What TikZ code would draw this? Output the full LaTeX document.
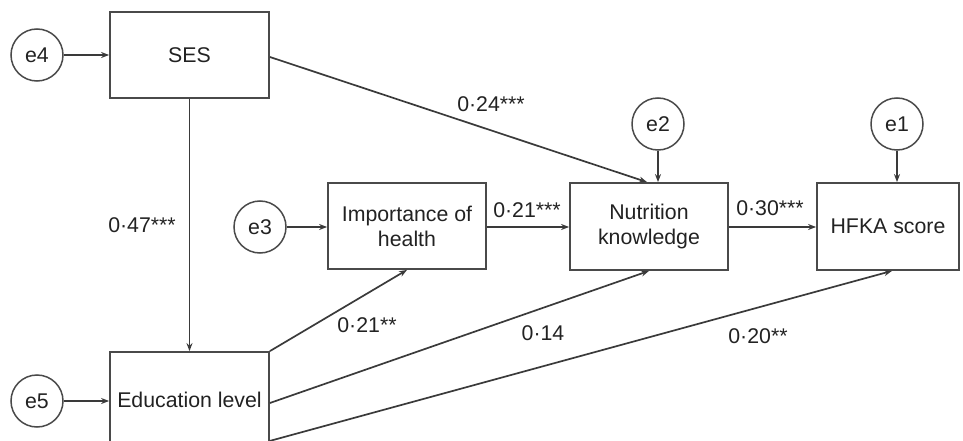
\documentclass[tikz,border=0pt]{standalone}
\usepackage{fontspec}
\setmainfont{Liberation Sans}
\usetikzlibrary{arrows.meta}
\definecolor{linec}{HTML}{3A3A3A}
\definecolor{boxc}{HTML}{4A4A4A}
\definecolor{textc}{HTML}{222222}
\begin{document}
\begin{tikzpicture}[x=1pt,y=-1pt,
  every node/.style={text=textc,font=\fontsize{21.3}{25}\selectfont},
  varbox/.style={draw=boxc,line width=1.8pt,rectangle,align=center,inner sep=0pt},
  errc/.style={draw=boxc,line width=1.5pt,circle,minimum size=52pt,inner sep=0pt},
  conn/.style={draw=linec,line width=1.7pt,-{Stealth[length=8pt,width=6pt]}},
  coef/.style={inner sep=0pt}]
\useasboundingbox (0,0) rectangle (963,441);
% boxes
\node[varbox,minimum width=159pt,minimum height=86pt] (ses) at (189.5,55) {SES};
\node[varbox,minimum width=158pt,minimum height=86pt] (imp) at (407,226) {Importance of\\health};
\node[varbox,minimum width=158pt,minimum height=87pt] (nut) at (649,226.5) {Nutrition\\knowledge};
\node[varbox,minimum width=142pt,minimum height=87pt] (hfka) at (888,226.5) {HFKA score};
\node[varbox,minimum width=159pt,minimum height=96pt] (edu) at (189.5,400) {Education level};
% error terms
\node[errc] (e4) at (37,55) {e4};
\node[errc] (e5) at (37,401) {e5};
\node[errc] (e3) at (260,227) {e3};
\node[errc] (e2) at (658,124) {e2};
\node[errc] (e1) at (897,124) {e1};
% error arrows
\draw[conn] (e4) -- (ses.west |- e4);
\draw[conn] (e5) -- (edu.west |- e5);
\draw[conn] (e3) -- (imp.west |- e3);
\draw[conn] (e2) -- (e2 |- nut.north);
\draw[conn] (e1) -- (e1 |- hfka.north);
% structural paths
\draw[conn] ([yshift=-2pt]ses.east) -- ([xshift=-2pt]nut.north);
\draw[conn] (ses) -- (edu);
\draw[conn] (imp.east |- 0,227) -- (nut.west |- 0,227);
\draw[conn] (nut.east |- 0,227) -- (hfka.west |- 0,227);
\draw[conn] (edu.north east) -- (imp.south);
\draw[conn] ([yshift=-3pt]edu.east) -- (nut.south);
\draw[conn] ([yshift=8pt]edu.south east) -- ([xshift=4pt]hfka.south);
% coefficients
\node[coef] (c1) at (491,104) {0·24***};
\node[coef] (c2) at (142,225) {0·47***};
\node[coef] (c3) at (527,210) {0·21***};
\node[coef] (c4) at (770,208) {0·30***};
\node[coef] (c5) at (367,325) {0·21**};
\node[coef] (c6) at (543,333) {0·14};
\node[coef] (c7) at (758,336) {0·20**};
\end{tikzpicture}
\end{document}
